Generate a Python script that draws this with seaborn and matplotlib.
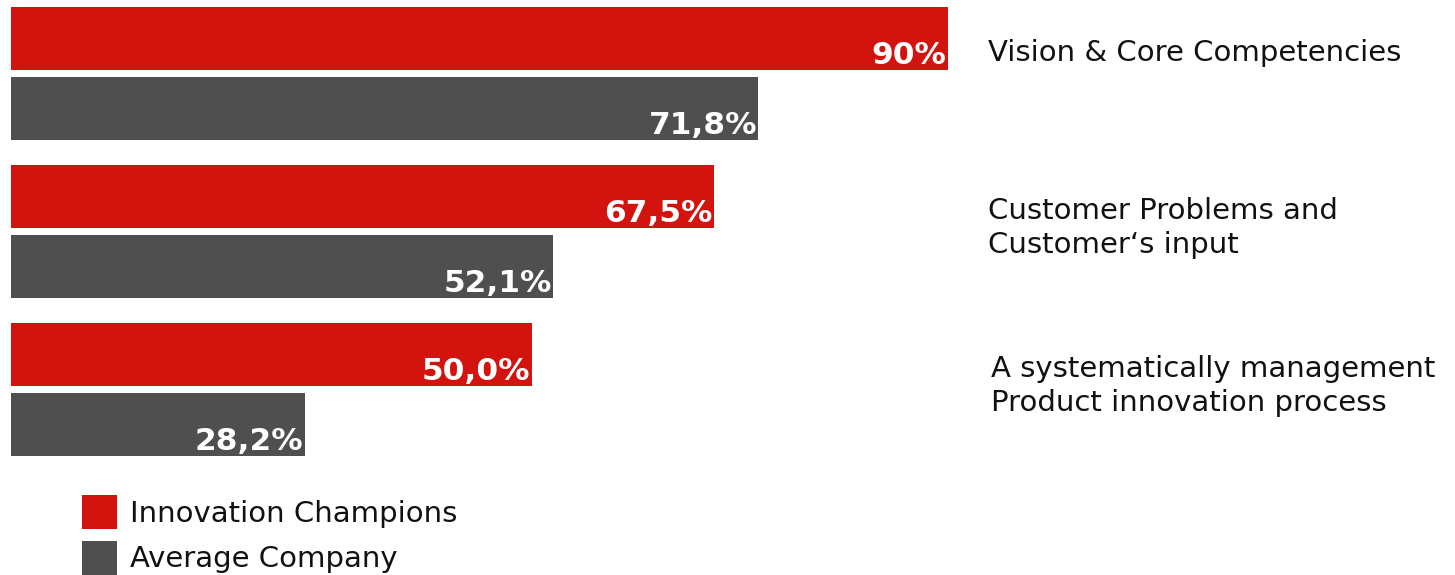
import matplotlib
matplotlib.use("Agg")
import matplotlib.pyplot as plt
import seaborn as sns
import pandas as pd

categories = [
    "Vision & Core Competencies",
    "Customer Problems and\nCustomer\u2018s input",
    "A systematically management\nProduct innovation process",
]
series_names = ["Innovation Champions", "Average Company"]
champions = [90.0, 67.5, 50.0]
average = [71.8, 52.1, 28.2]
value_labels_champions = ["90%", "67,5%", "50,0%"]
value_labels_average = ["71,8%", "52,1%", "28,2%"]

RED = "#D3140E"
GRAY = "#4E4F4E"
TEXT = "#111111"

df = pd.DataFrame({
    "category": categories * 2,
    "series": [series_names[0]] * 3 + [series_names[1]] * 3,
    "value": champions + average,
    "label": value_labels_champions + value_labels_average,
})

sns.set_theme(style="white")
plt.rcParams["font.family"] = ["DejaVu Sans"]

W, H = 1455, 575
fig = plt.figure(figsize=(W / 100, H / 100), dpi=100)
left_px = 11
ax = fig.add_axes([left_px / W, 0, 1 - left_px / W, 1])

sns.barplot(
    data=df, y="category", x="value", hue="series", orient="h",
    palette=[RED, GRAY], width=0.886, gap=0.1, saturation=1,
    order=categories, hue_order=series_names, ax=ax, linewidth=0,
)

px_per_unit = 10.41
ax.set_xlim(0, (W - left_px) / px_per_unit)
group_px = 158.0
top = -73.5 / group_px
ax.set_ylim(top + H / group_px, top)
ax.axis("off")

# value labels inside the bar ends
for container, labels in zip(ax.containers, [value_labels_champions, value_labels_average]):
    for bar, lab in zip(container, labels):
        x_end = bar.get_x() + bar.get_width()
        y_bot = bar.get_y() + bar.get_height()
        ax.annotate(lab, (x_end, y_bot), xytext=(-1, 4), textcoords="offset points",
                    ha="right", va="baseline", color="white", fontsize=22.5,
                    fontweight="bold")

# category labels on the right
for i, cat in enumerate(categories):
    xpos = (988 - left_px) / px_per_unit if i < 2 else (991 - left_px) / px_per_unit
    ax.text(xpos, i - 0.22, cat, ha="left", va="top", fontsize=21,
            color=TEXT, linespacing=1.3)

handles, labels = ax.get_legend_handles_labels()
if ax.legend_:
    ax.legend_.remove()
leg = fig.legend(handles, labels, loc="upper left",
                 bbox_to_anchor=(82 / W, 1 - 495 / H), bbox_transform=fig.transFigure,
                 frameon=False, fontsize=21, handlelength=1.2, handleheight=1.42,
                 handletextpad=0.45, labelspacing=0.4, borderpad=0, borderaxespad=0)
for t in leg.get_texts():
    t.set_color(TEXT)

fig.savefig("out.png", dpi=100)
